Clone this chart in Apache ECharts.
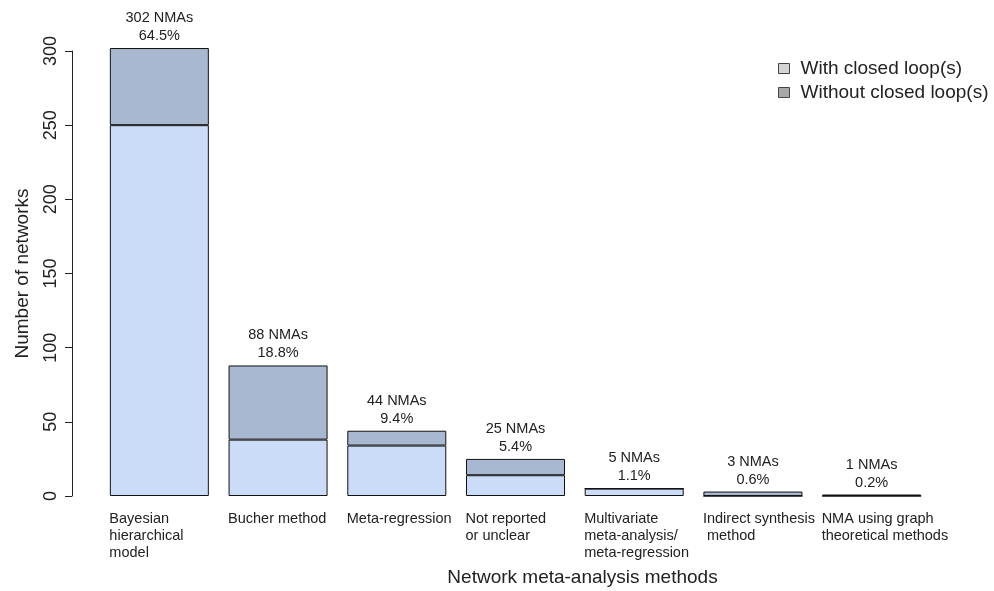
<!DOCTYPE html>
<html><head><meta charset="utf-8">
<script src="https://cdn.jsdelivr.net/npm/echarts@6/dist/echarts.min.js"></script>
<style>html,body{margin:0;padding:0;background:#fff}#c{width:994px;height:591px}</style>
</head><body><div id="c"></div>
<script>
const categories = ["Bayesian\nhierarchical\nmodel","Bucher method","Meta-regression","Not reported\nor unclear","Multivariate\nmeta-analysis/\nmeta-regression","Indirect synthesis\n method","NMA using graph\ntheoretical methods"];
const withLoops = [250, 38, 34, 14, 5, 0, 0];
const withoutLoops = [52, 50, 10, 11, 0, 3, 1];
const totals = [302, 88, 44, 25, 5, 3, 1];
const percents = ["64.5%","18.8%","9.4%","5.4%","1.1%","0.6%","0.2%"];
const yTicks = [0, 50, 100, 150, 200, 250, 300];

const txt = '#222';
const font = 'Liberation Sans, Arial, sans-serif';
const chart = echarts.init(document.getElementById('c'));
chart.setOption({
  animation: false,
  textStyle: {fontFamily: font},
  grid: {left: 100, right: 63, top: 51, bottom: 95, outerBoundsMode: 'none', containLabel: false},
  legend: {
    orient: 'vertical', left: 773, top: 54, itemWidth: 11, itemHeight: 10, itemGap: 5,
    icon: 'rect',
    textStyle: {fontSize: 19, color: txt, fontFamily: font, padding: [0, 0, 0, 6]},
    data: [
      {name: 'With closed loop(s)', itemStyle: {color: '#d4d4d4', borderColor: '#444', borderWidth: 1}},
      {name: 'Without closed loop(s)', itemStyle: {color: '#a8a8a8', borderColor: '#444', borderWidth: 1}}
    ]
  },
  xAxis: {
    type: 'category', data: categories,
    axisLine: {show: false}, axisTick: {show: false},
    name: 'Network meta-analysis methods', nameLocation: 'middle', nameGap: 72,
    nameTextStyle: {fontSize: 19, color: txt, fontFamily: font, padding: [0, 0, 0, 134]},
    axisLabel: {
      interval: 0, margin: 14, color: txt, fontSize: 14.5, lineHeight: 17, fontFamily: font,
      align: 'center', verticalAlign: 'top',
      formatter: v => v.split('\n').map(s => '{a|' + s + '}').join('\n'),
      rich: {a: {width: 100, align: 'left', fontSize: 14.5, lineHeight: 17, color: txt, fontFamily: font}}
    }
  },
  yAxis: {
    type: 'value', min: 0, max: 300, interval: 50, offset: 28,
    splitLine: {show: false},
    axisLine: {show: true, lineStyle: {color: '#222', width: 1}},
    axisTick: {show: true, length: 7, lineStyle: {color: '#222'}},
    axisLabel: {rotate: 90, margin: 12, fontSize: 18, color: txt, fontFamily: font,
      formatter: v => yTicks.includes(v) ? String(v) : ''},
    name: 'Number of networks', nameLocation: 'middle', nameGap: 40, nameRotate: 90,
    nameTextStyle: {fontSize: 19, color: txt, fontFamily: font}
  },
  series: [
    {name: 'With closed loop(s)', type: 'bar', stack: 'a', data: withLoops, barWidth: 99, clip: false,
     itemStyle: {color: '#cadcf8', borderColor: '#111', borderWidth: 1}},
    {name: 'Without closed loop(s)', type: 'bar', stack: 'a', data: withoutLoops, barWidth: 99, clip: false,
     itemStyle: {color: '#a8b8d0', borderColor: '#111', borderWidth: 1},
     label: {show: true, position: 'top', distance: 3, color: txt, fontSize: 14.5, lineHeight: 18, fontFamily: font,
       formatter: p => totals[p.dataIndex] + ' NMAs\n' + percents[p.dataIndex]}}
  ]
});
</script></body></html>
